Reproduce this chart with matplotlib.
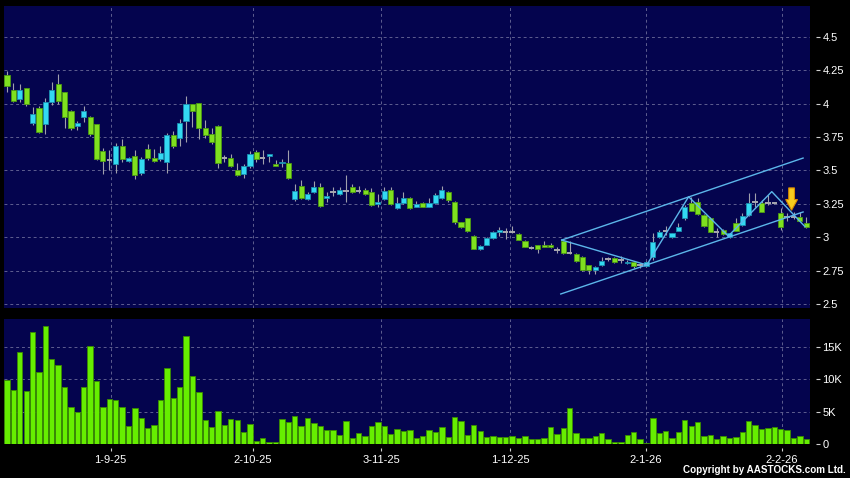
import matplotlib

matplotlib.use("Agg")

import matplotlib.pyplot as plt
import numpy as np
from matplotlib.patches import FancyArrow

# daily candles, oldest first (HKD)
OPEN = [
    4.215, 4.098, 4.032, 4.115, 3.858, 3.97, 3.845, 4.01, 4.145, 4.085,
    3.948, 3.83, 3.902, 3.902, 3.845, 3.645, 3.58, 3.552, 3.68, 3.568,
    3.612, 3.478, 3.658, 3.595, 3.588, 3.562, 3.762, 3.74, 3.872, 4.0,
    4.002, 3.815, 3.772, 3.83, 3.592, 3.592, 3.505, 3.475, 3.53, 3.64,
    3.592, 3.61, 3.55, 3.555, 3.558, 3.285, 3.382, 3.285, 3.34, 3.375,
    3.295, 3.342, 3.325, 3.35, 3.375, 3.35, 3.355, 3.338, 3.25, 3.285,
    3.355, 3.22, 3.258, 3.295, 3.23, 3.2575, 3.23, 3.2575, 3.295, 3.3375,
    3.2675, 3.1125, 3.1425, 3.0125, 2.91, 2.945, 2.995, 3.0425, 3.0425, 3.0425,
    3.025, 2.975, 2.92, 2.9425, 2.94, 2.94, 2.9075, 2.975, 2.8825, 2.875,
    2.855, 2.7925, 2.76, 2.79, 2.8375, 2.845, 2.828, 2.805, 2.815, 2.7925,
    2.785, 2.85, 3.0, 3.05, 3.0, 3.0475, 3.1425, 3.26, 3.2675, 3.17,
    3.1425, 3.0425, 3.055, 3.0, 3.11, 3.0925, 3.1675, 3.2675, 3.26, 3.255,
    3.26, 3.18, 3.155, 3.15, 3.15, 3.105,
]
HIGH = [
    4.245, 4.152, 4.148, 4.12, 3.978, 3.985, 4.045, 4.162, 4.222, 4.09,
    3.95, 3.87, 3.982, 3.91, 3.85, 3.665, 3.65, 3.702, 3.735, 3.60,
    3.65, 3.60, 3.70, 3.658, 3.682, 3.782, 3.798, 3.882, 4.058, 4.0,
    4.005, 3.878, 3.815, 3.84, 3.618, 3.625, 3.555, 3.55, 3.645, 3.65,
    3.65, 3.625, 3.575, 3.588, 3.65, 3.40, 3.43, 3.34, 3.418, 3.405,
    3.338, 3.375, 3.375, 3.47, 3.40, 3.385, 3.37, 3.37, 3.325, 3.375,
    3.375, 3.30, 3.338, 3.30, 3.27, 3.265, 3.295, 3.33, 3.3875, 3.35,
    3.27, 3.115, 3.145, 3.02, 2.94, 3.0, 3.05, 3.075, 3.07, 3.0875,
    3.03, 2.98, 2.9375, 2.945, 2.97, 2.96, 2.93, 2.98, 2.975, 2.88,
    2.86, 2.795, 2.785, 2.85, 2.85, 2.85, 2.86, 2.83, 2.82, 2.81,
    2.82, 3.03, 3.055, 3.085, 3.035, 3.11, 3.245, 3.305, 3.2925, 3.175,
    3.15, 3.0675, 3.06, 3.035, 3.1425, 3.18, 3.33, 3.33, 3.28, 3.3175,
    3.2675, 3.2175, 3.185, 3.1925, 3.1925, 3.155,
]
LOW = [
    4.09, 4.015, 4.015, 3.98, 3.84, 3.78, 3.772, 3.99, 4.0, 3.815,
    3.80, 3.80, 3.86, 3.76, 3.58, 3.472, 3.50, 3.478, 3.56, 3.56,
    3.44, 3.465, 3.58, 3.56, 3.57, 3.478, 3.67, 3.682, 3.715, 3.828,
    3.735, 3.74, 3.70, 3.52, 3.562, 3.525, 3.458, 3.445, 3.52, 3.56,
    3.55, 3.562, 3.53, 3.525, 3.44, 3.275, 3.29, 3.28, 3.33, 3.23,
    3.262, 3.312, 3.32, 3.262, 3.335, 3.335, 3.32, 3.237, 3.225, 3.28,
    3.24, 3.215, 3.25, 3.21, 3.225, 3.225, 3.225, 3.25, 3.29, 3.265,
    3.10, 3.07, 3.04, 2.91, 2.905, 2.94, 2.99, 3.0125, 2.9875, 3.035,
    2.98, 2.925, 2.915, 2.88, 2.925, 2.92, 2.88, 2.875, 2.875, 2.815,
    2.75, 2.725, 2.73, 2.785, 2.82, 2.81, 2.81, 2.80, 2.775, 2.775,
    2.78, 2.83, 2.995, 3.0175, 2.995, 3.045, 3.13, 3.195, 3.17, 3.08,
    3.04, 3.005, 3.02, 2.995, 3.045, 3.085, 3.16, 3.23, 3.19, 3.245,
    3.25, 3.055, 3.125, 3.14, 3.12, 3.07,
]
CLOSE = [
    4.128, 4.022, 4.098, 3.995, 3.92, 3.79, 4.01, 4.098, 4.022, 3.902,
    3.82, 3.852, 3.942, 3.772, 3.588, 3.57, 3.58, 3.68, 3.588, 3.595,
    3.465, 3.588, 3.592, 3.568, 3.628, 3.762, 3.682, 3.852, 3.995, 3.942,
    3.82, 3.762, 3.71, 3.558, 3.592, 3.532, 3.468, 3.53, 3.625, 3.588,
    3.592, 3.625, 3.535, 3.565, 3.442, 3.345, 3.295, 3.325, 3.375, 3.238,
    3.31, 3.342, 3.355, 3.35, 3.34, 3.35, 3.325, 3.245, 3.265, 3.345,
    3.25, 3.255, 3.295, 3.22, 3.25, 3.23, 3.2575, 3.32, 3.355, 3.28,
    3.1125, 3.075, 3.045, 2.9125, 2.935, 2.995, 3.0425, 3.055, 3.0425, 3.0425,
    2.9825, 2.93, 2.92, 2.91, 2.93, 2.925, 2.9075, 2.88, 2.8825, 2.82,
    2.7575, 2.755, 2.78, 2.825, 2.8375, 2.815, 2.828, 2.8175, 2.788, 2.7925,
    2.8175, 2.9625, 3.0425, 3.05, 3.03, 3.08, 3.225, 3.2, 3.175, 3.085,
    3.0425, 3.0425, 3.025, 3.03, 3.05, 3.16, 3.26, 3.2675, 3.1925, 3.255,
    3.26, 3.08, 3.155, 3.15, 3.125, 3.075,
]
# volume in thousands of shares
VOLUME_K = [
    9.85, 8.4, 14.3, 8.15, 17.3, 11.2, 18.3, 13.2, 12.2, 8.9,
    5.7, 4.9, 8.8, 15.2, 9.7, 5.8, 7.0, 6.75, 5.8, 2.8,
    5.6, 4.0, 2.5, 2.9, 6.8, 11.7, 7.06, 8.9, 16.75, 10.6,
    8.0, 3.75, 2.7, 5.05, 2.9, 3.8, 3.65, 1.85, 3.05, 0.4,
    0.9, 0.25, 0.3, 3.8, 3.45, 4.3, 2.85, 3.95, 3.2, 2.85,
    2.15, 2.15, 1.4, 3.6, 0.9, 1.65, 1.25, 2.75, 3.4, 2.8,
    1.55, 2.35, 2.05, 2.2, 1.0, 1.2, 2.1, 1.85, 2.7, 1.05,
    4.2, 3.55, 1.45, 3.0, 2.05, 1.05, 1.25, 1.05, 1.15, 1.2,
    0.9, 1.2, 0.8, 0.8, 0.9, 2.7, 1.5, 2.4, 5.5, 1.65,
    1.0, 1.0, 1.25, 1.65, 0.7, 0.35, 0.3, 1.35, 1.85, 0.7,
    0.1, 4.0, 1.7, 1.95, 0.9, 1.9, 3.65, 2.75, 3.35, 1.25,
    1.35, 0.8, 1.2, 1.0, 1.15, 1.9, 3.6, 3.0, 2.25, 2.4,
    2.7, 2.25, 2.15, 0.95, 1.25, 0.8,
]

DATE_TICK_BARS = [16.2, 38.4, 58.5, 78.7, 99.9, 121.2]
DATE_TICK_LABELS = ["1-9-25", "2-10-25", "3-11-25", "1-12-25", "2-1-26", "2-2-26"]
PRICE_TICKS = [2.5, 2.75, 3, 3.25, 3.5, 3.75, 4, 4.25, 4.5]
PRICE_TICK_LABELS = ["2.5", "2.75", "3", "3.25", "3.5", "3.75", "4", "4.25", "4.5"]
VOLUME_TICKS = [0, 5, 10, 15]
VOLUME_TICK_LABELS = ["0", "5K", "10K", "15K"]

# drawn trend channel and zigzag (bar index, price)
CHANNEL_UPPER_X = [86.75, 124.5]
CHANNEL_UPPER_Y = [2.98, 3.593]
CHANNEL_LOWER_X = [86.6, 124.5]
CHANNEL_LOWER_Y = [2.577, 3.19]
ZIGZAG_X = [86.75, 100.05, 106.6, 112.8, 119.6, 124.8]
ZIGZAG_Y = [2.98, 2.794, 3.304, 3.01, 3.342, 3.08]
ARROW_BAR = 122.7
ARROW_TOP = 3.37
ARROW_TIP = 3.203

BG = "#000000"
PANEL = "#04044e"
GRID = "#5e5e90"
UP = "#33d9f2"
UP_EDGE = "#1b8fb0"
DOWN = "#7fe01f"
DOWN_EDGE = "#4c9a12"
DOJI = "#a8a8b0"
WICK = "#a0a0ac"
VOL = "#66ee00"
VOL_EDGE = "#3a8c00"
LINE = "#5cb6ea"
FONT = ["Liberation Sans", "DejaVu Sans"]

plt.rcParams["font.family"] = FONT

o = np.array(OPEN)
h = np.array(HIGH)
l = np.array(LOW)
c = np.array(CLOSE)
x = np.arange(len(o))

fig = plt.figure(figsize=(8.5, 4.78), dpi=100, facecolor=BG)
ax = fig.add_axes([3.5 / 850, 170 / 478, 806.5 / 850, 302 / 478])
axv = fig.add_axes([3.5 / 850, 34 / 478, 806.5 / 850, 125 / 478])

xlim = (-0.55, 125.58)
for a in (ax, axv):
    a.set_facecolor(PANEL)
    a.set_xlim(*xlim)
    for s in a.spines.values():
        s.set_visible(False)
    a.spines["right"].set_position(("outward", 4))
    a.yaxis.tick_right()
    a.tick_params(axis="y", which="both", direction="out", length=3, width=0.8,
                  color="#d0d0d0", labelcolor="white", labelsize=8, pad=2,
                  left=False, right=True)
    a.set_xticks(DATE_TICK_BARS)
    a.grid(True, color=GRID, linestyle=(0, (3, 3)), linewidth=0.7)
    a.set_axisbelow(True)

# price panel
ax.set_ylim(2.4723, 4.7295)
ax.set_yticks(PRICE_TICKS)
ax.set_yticklabels(PRICE_TICK_LABELS)
ax.tick_params(axis="x", length=0, labelbottom=False)

up = c > o
down = c < o
flat = c == o

ax.vlines(x, l, h, color=WICK, linewidth=0.8, zorder=2)
ax.bar(x[up], (c - o)[up], bottom=o[up], width=0.8, color=UP,
       edgecolor=UP_EDGE, linewidth=0.6, zorder=3)
ax.bar(x[down], (o - c)[down], bottom=c[down], width=0.8, color=DOWN,
       edgecolor=DOWN_EDGE, linewidth=0.6, zorder=3)
ax.hlines(c[flat], x[flat] - 0.42, x[flat] + 0.42, color=DOJI, linewidth=1.4, zorder=3)

ax.plot(CHANNEL_UPPER_X, CHANNEL_UPPER_Y, color=LINE, linewidth=1.0, zorder=4)
ax.plot(CHANNEL_LOWER_X, CHANNEL_LOWER_Y, color=LINE, linewidth=1.0, zorder=4)
ax.plot(ZIGZAG_X, ZIGZAG_Y, color=LINE, linewidth=1.0, zorder=4)

ax.add_patch(FancyArrow(ARROW_BAR, ARROW_TOP, 0, ARROW_TIP - ARROW_TOP,
                        width=0.9, head_width=1.85, head_length=0.08,
                        length_includes_head=True, facecolor="#f9cc1e",
                        edgecolor="#d98a00", linewidth=0.8, zorder=5))

# volume panel
axv.set_ylim(0, 19.35)
axv.bar(x, VOLUME_K, width=0.84, color=VOL, edgecolor=VOL_EDGE, linewidth=0.6, zorder=3)
axv.set_yticks(VOLUME_TICKS)
axv.set_yticklabels(VOLUME_TICK_LABELS)
axv.spines["bottom"].set_position(("outward", 3))
axv.set_xticklabels(DATE_TICK_LABELS)
axv.tick_params(axis="x", direction="out", length=2, width=0.8, color="#d0d0d0",
                labelcolor="white", labelsize=8, pad=3)

fig.text(846 / 850, 3 / 478, "Copyright by AASTOCKS.com Ltd.", color="white",
         fontsize=7.1, fontweight="bold", ha="right", va="bottom")

fig.savefig("out.png", dpi=100, facecolor=BG)
plt.close(fig)
